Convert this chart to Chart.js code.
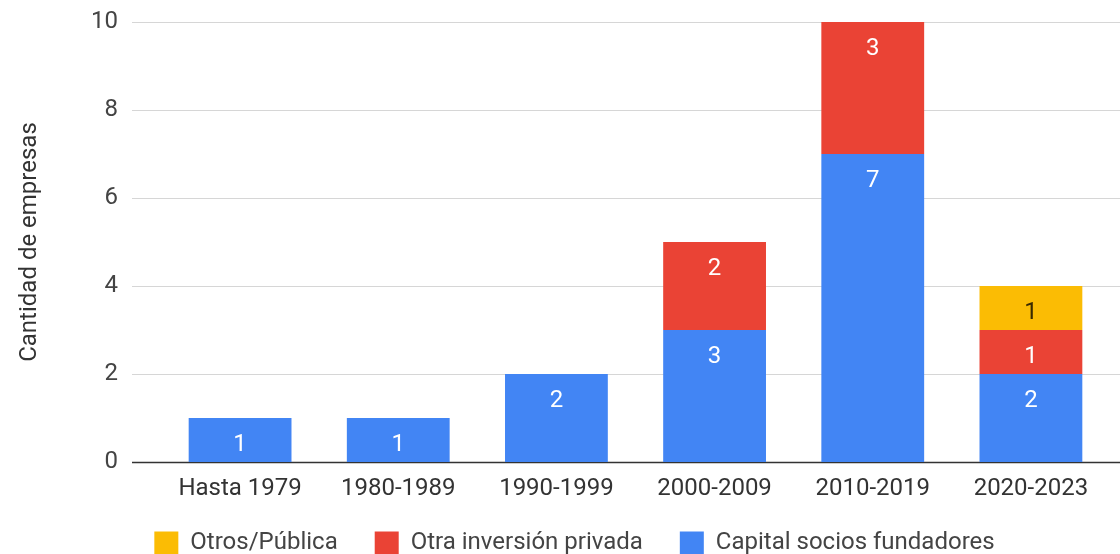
<!DOCTYPE html>
<html>
<head>
<meta charset="utf-8">
<script src="https://cdn.jsdelivr.net/npm/chart.js@4/dist/chart.umd.min.js"></script>
<style>
  body { margin: 0; background: #fff; }
  #wrap { width: 1120px; height: 554px; }
</style>
</head>
<body>
<div id="wrap"><canvas id="myChart"></canvas></div>
<script>
const categories = ["Hasta 1979", "1980-1989", "1990-1999", "2000-2009", "2010-2019", "2020-2023"];
const capitalSocios = [1, 1, 2, 3, 7, 2];
const otraPrivada = [0, 0, 0, 2, 3, 1];
const otrosPublica = [0, 0, 0, 0, 0, 1];
const yTicks = [0, 2, 4, 6, 8, 10];

const BLUE = "#4285F4", RED = "#EA4335", YELLOW = "#FBBC04";
const FONT = "Roboto, 'Liberation Sans', Arial, sans-serif";
const FS = 24;

// grid lines a bit wider than the bars area, like the original
const gridLines = {
    id: 'gridLines',
    beforeDatasetsDraw(chart) {
        const ctx = chart.ctx, y = chart.scales.y, area = chart.chartArea;
        ctx.save();
        y.ticks.forEach(t => {
            const py = Math.round(y.getPixelForValue(t.value)) + 0.5;
            ctx.beginPath();
            ctx.strokeStyle = t.value === 0 ? "#333333" : "#d6d6d6";
            ctx.lineWidth = t.value === 0 ? 1.5 : 1;
            ctx.moveTo(area.left - 29, py);
            ctx.lineTo(chart.width, py);
            ctx.stroke();
        });
        ctx.restore();
    }
};

// value labels near the top of each segment
const segLabels = {
    id: 'segLabels',
    afterDatasetsDraw(chart) {
        const ctx = chart.ctx;
        ctx.save();
        ctx.font = FS + "px " + FONT;
        ctx.textAlign = "center";
        ctx.textBaseline = "middle";
        chart.data.datasets.forEach((ds, i) => {
            chart.getDatasetMeta(i).data.forEach((bar, j) => {
                const v = ds.data[j];
                if (!v) return;
                ctx.fillStyle = ds.labelColor;
                ctx.fillText(String(v), bar.x, bar.y + 27);
            });
        });
        ctx.restore();
    }
};

new Chart(document.getElementById("myChart"), {
    type: 'bar',
    data: {
        labels: categories,
        datasets: [
            { label: "Capital socios fundadores", data: capitalSocios, backgroundColor: BLUE, labelColor: "#ffffff" },
            { label: "Otra inversión privada", data: otraPrivada, backgroundColor: RED, labelColor: "#ffffff" },
            { label: "Otros/Pública", data: otrosPublica, backgroundColor: YELLOW, labelColor: "#3a2a00" }
        ]
    },
    options: {
        responsive: true,
        maintainAspectRatio: false,
        animation: false,
        layout: { padding: { left: 39, right: 10, top: 22, bottom: 0 } },
        datasets: { bar: { barPercentage: 0.65, categoryPercentage: 1 } },
        plugins: {
            tooltip: { enabled: false },
            legend: {
                position: 'bottom',
                reverse: true,
                maxHeight: 60,
                labels: {
                    boxWidth: 24, boxHeight: 23, padding: 37,
                    color: "#444444",
                    font: { family: FONT, size: FS }
                }
            }
        },
        scales: {
            x: {
                stacked: true,
                grid: { display: false },
                border: { display: false },
                afterFit(scale) { scale.height = 32; },
                ticks: { mirror: true, padding: -41, color: "#333333", font: { family: FONT, size: FS } }
            },
            y: {
                stacked: true,
                min: 0, max: 10,
                afterBuildTicks(scale) { scale.ticks = yTicks.map(v => ({ value: v })); },
                afterFit(scale) { scale.width = 122; },
                grid: { display: false, tickLength: 43 },
                border: { display: false },
                ticks: { color: "#444444", padding: 0, font: { family: FONT, size: FS } },
                title: {
                    display: true,
                    text: "Cantidad de empresas",
                    color: "#333333",
                    padding: { top: -23, bottom: 0 },
                    font: { family: FONT, size: FS }
                }
            }
        }
    },
    plugins: [gridLines, segLabels]
});
</script>
</body>
</html>
